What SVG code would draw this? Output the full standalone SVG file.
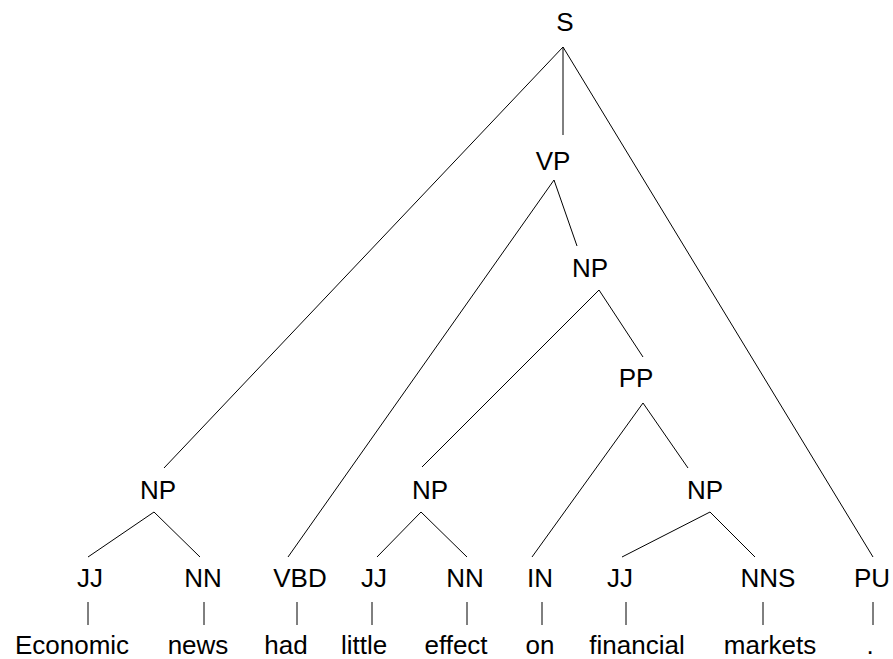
<svg xmlns="http://www.w3.org/2000/svg" width="893" height="659" viewBox="0 0 893 659">
<style>
text{font-family:"Liberation Sans",Arial,sans-serif;font-size:26px;fill:#000;text-anchor:middle}
#edges line{stroke:#000;stroke-width:1}
</style>
<rect width="893" height="659" fill="#fff"/>
<g id="edges">
<line x1="563" y1="47" x2="164" y2="468"/>
<line x1="563" y1="47" x2="563" y2="135"/>
<line x1="563" y1="47" x2="873" y2="557"/>
<line x1="554" y1="180" x2="288" y2="557"/>
<line x1="554" y1="180" x2="577" y2="246"/>
<line x1="599" y1="290" x2="422" y2="467"/>
<line x1="599" y1="290" x2="643" y2="357"/>
<line x1="643" y1="403" x2="532" y2="557"/>
<line x1="643" y1="403" x2="688" y2="468"/>
<line x1="154" y1="512" x2="88" y2="557"/>
<line x1="154" y1="512" x2="200" y2="557"/>
<line x1="421" y1="512" x2="377" y2="557"/>
<line x1="421" y1="512" x2="467" y2="557"/>
<line x1="710" y1="512" x2="622" y2="557"/>
<line x1="710" y1="512" x2="755" y2="557"/>
<line x1="88" y1="602" x2="88" y2="625"/>
<line x1="204" y1="602" x2="204" y2="625"/>
<line x1="297" y1="602" x2="297" y2="625"/>
<line x1="372" y1="602" x2="372" y2="625"/>
<line x1="467" y1="602" x2="467" y2="625"/>
<line x1="542" y1="602" x2="542" y2="625"/>
<line x1="626" y1="602" x2="626" y2="625"/>
<line x1="763" y1="602" x2="763" y2="625"/>
<line x1="873" y1="602" x2="873" y2="625"/>
</g>
<g id="n-S"><text x="565" y="31">S</text></g>
<g id="n-VP"><text x="553" y="170">VP</text></g>
<g id="n-NP1"><text x="590" y="277">NP</text></g>
<g id="n-PP"><text x="636" y="387">PP</text></g>
<g id="n-NP2"><text x="158" y="499">NP</text></g>
<g id="n-NP3"><text x="430" y="499">NP</text></g>
<g id="n-NP4"><text x="705" y="499">NP</text></g>
<g id="n-JJ1"><text x="90" y="587">JJ</text></g>
<g id="n-NN1"><text x="203" y="587">NN</text></g>
<g id="n-VBD"><text x="300" y="587">VBD</text></g>
<g id="n-JJ2"><text x="374" y="587">JJ</text></g>
<g id="n-NN2"><text x="465" y="587">NN</text></g>
<g id="n-IN"><text x="540" y="587">IN</text></g>
<g id="n-JJ3"><text x="620" y="587">JJ</text></g>
<g id="n-NNS"><text x="768" y="587">NNS</text></g>
<g id="n-PU"><text x="872" y="587">PU</text></g>
<g id="w-Economic"><text x="72" y="654">Economic</text></g>
<g id="w-news"><text x="198" y="654">news</text></g>
<g id="w-had"><text x="286" y="654">had</text></g>
<g id="w-little"><text x="364" y="654">little</text></g>
<g id="w-effect"><text x="456" y="654">effect</text></g>
<g id="w-on"><text x="540" y="654">on</text></g>
<g id="w-financial"><text x="637" y="654">financial</text></g>
<g id="w-markets"><text x="770" y="654">markets</text></g>
<g id="w-dot"><text x="870" y="654">.</text></g>
</svg>
